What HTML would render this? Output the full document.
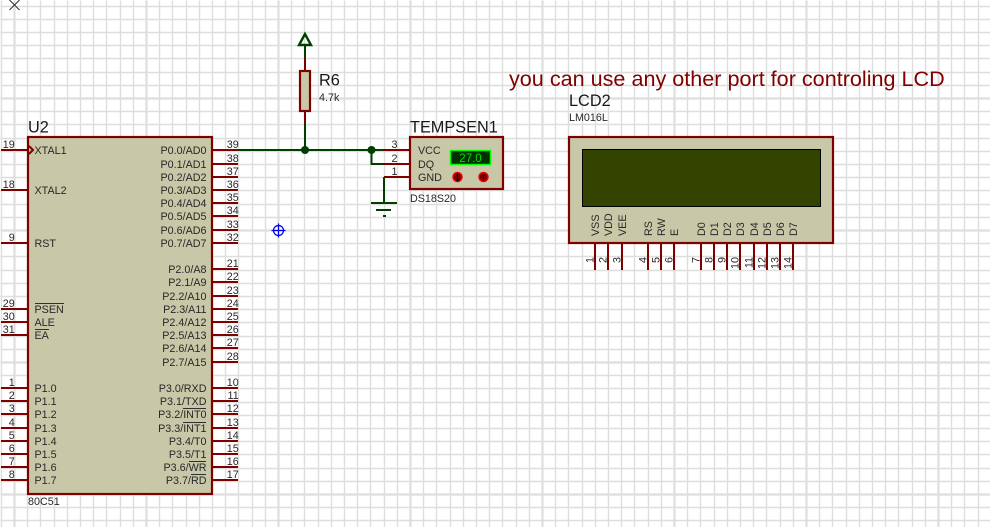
<!DOCTYPE html>
<html><head><meta charset="utf-8"><style>
html,body{margin:0;padding:0;background:#fff;width:990px;height:527px;overflow:hidden}
svg{display:block}
text{font-family:"Liberation Sans",sans-serif;font-size:10.75px;fill:#282828}
.b{font-size:16.3px;fill:#181818}
</style></head><body>
<svg width="990" height="527" viewBox="0 0 990 527" xmlns="http://www.w3.org/2000/svg">
<rect width="990" height="527" fill="#fff"/>
<g transform="translate(.5,.5)" fill="none" stroke="#dedede">
<path stroke-width="1.4" d="M1 0V527M27 0V527M40 0V527M54 0V527M67 0V527M80 0V527M93 0V527M106 0V527M120 0V527M133 0V527M159 0V527M172 0V527M186 0V527M199 0V527M212 0V527M225 0V527M238 0V527M252 0V527M265 0V527M291 0V527M304 0V527M318 0V527M331 0V527M344 0V527M357 0V527M370 0V527M384 0V527M397 0V527M423 0V527M436 0V527M450 0V527M463 0V527M476 0V527M489 0V527M502 0V527M516 0V527M529 0V527M555 0V527M568 0V527M582 0V527M595 0V527M608 0V527M621 0V527M634 0V527M648 0V527M661 0V527M687 0V527M700 0V527M714 0V527M727 0V527M740 0V527M753 0V527M766 0V527M780 0V527M793 0V527M819 0V527M832 0V527M846 0V527M859 0V527M872 0V527M885 0V527M898 0V527M912 0V527M925 0V527M951 0V527M964 0V527M978 0V527"/>
<path stroke-width="1.4" d="M0 6H990M0 19H990M0 32H990M0 45H990M0 58H990M0 72H990M0 85H990M0 111H990M0 124H990M0 138H990M0 151H990M0 164H990M0 177H990M0 190H990M0 204H990M0 217H990M0 243H990M0 256H990M0 270H990M0 283H990M0 296H990M0 309H990M0 322H990M0 336H990M0 349H990M0 375H990M0 388H990M0 402H990M0 415H990M0 428H990M0 441H990M0 454H990M0 468H990M0 481H990M0 507H990M0 520H990"/>
<path stroke-width="2.2" d="M14 0V527M146 0V527M278 0V527M410 0V527M542 0V527M674 0V527M806 0V527M938 0V527M0 98H990M0 230H990M0 362H990M0 494H990"/>
</g>

<!-- origin cross -->
<path d="M9.5 0L19.5 10M19.5 0L9.5 10" stroke="#303030" stroke-width="1" fill="none"/>
<!-- blue marker -->
<g stroke="#0000e0" fill="none" stroke-width="1.2"><circle cx="278.5" cy="230.5" r="5"/><path d="M278.5 223.5V237.5M271.5 230.5H285.5"/></g>

<!-- U2 -->
<path fill="none" stroke="#800000" stroke-width="2" d="M1 150H28M1 190H28M1 243H28M1 309H28M1 322H28M1 335H28M1 388H28M1 401H28M1 414H28M1 428H28M1 441H28M1 454H28M1 467H28M1 480H28M212 150H238M212 164H238M212 177H238M212 190H238M212 203H238M212 216H238M212 230H238M212 243H238M212 269H238M212 282H238M212 296H238M212 309H238M212 322H238M212 335H238M212 348H238M212 362H238M212 388H238M212 401H238M212 414H238M212 428H238M212 441H238M212 454H238M212 467H238M212 480H238"/>
<rect x="28" y="137" width="184" height="357" fill="#c8c8a8" stroke="#800000" stroke-width="2.2"/>
<path d="M29 146L33 150L29 154" fill="none" stroke="#800000" stroke-width="2"/>
<text class="b" x="28" y="132.500">U2</text>
<text x="28" y="505">80C51</text>
<g>
<text x="34.500" y="154">XTAL1</text><text x="34.500" y="194">XTAL2</text><text x="34.500" y="247">RST</text>
<text x="34.500" y="313">PSEN</text><text x="34.500" y="326">ALE</text><text x="34.500" y="339">EA</text>
<text x="34.500" y="392">P1.0</text><text x="34.500" y="405">P1.1</text><text x="34.500" y="418">P1.2</text><text x="34.500" y="432">P1.3</text><text x="34.500" y="445">P1.4</text><text x="34.500" y="458">P1.5</text><text x="34.500" y="471">P1.6</text><text x="34.500" y="484">P1.7</text>
</g>
<g text-anchor="end">
<text x="206.500" y="154">P0.0/AD0</text><text x="206.500" y="168">P0.1/AD1</text><text x="206.500" y="181">P0.2/AD2</text><text x="206.500" y="194">P0.3/AD3</text><text x="206.500" y="207">P0.4/AD4</text><text x="206.500" y="220">P0.5/AD5</text><text x="206.500" y="234">P0.6/AD6</text><text x="206.500" y="247">P0.7/AD7</text>
<text x="206.500" y="273">P2.0/A8</text><text x="206.500" y="286">P2.1/A9</text><text x="206.500" y="300">P2.2/A10</text><text x="206.500" y="313">P2.3/A11</text><text x="206.500" y="326">P2.4/A12</text><text x="206.500" y="339">P2.5/A13</text><text x="206.500" y="352">P2.6/A14</text><text x="206.500" y="366">P2.7/A15</text>
<text x="206.500" y="392">P3.0/RXD</text><text x="206.500" y="405">P3.1/TXD</text><text x="206.500" y="418">P3.2/INT0</text><text x="206.500" y="432">P3.3/INT1</text><text x="206.500" y="445">P3.4/T0</text><text x="206.500" y="458">P3.5/T1</text><text x="206.500" y="471">P3.6/WR</text><text x="206.500" y="484">P3.7/RD</text>
</g>
<path stroke="#303030" stroke-width="1" fill="none" d="M35 303.500H64M35 329.500H49M183 408.500H206M183 422.500H206M189 461.500H206M191 474.500H206"/>
<g text-anchor="end">
<text x="14.700" y="148">19</text><text x="14.700" y="188">18</text><text x="14.700" y="241">9</text><text x="14.700" y="307">29</text><text x="14.700" y="320">30</text><text x="14.700" y="333">31</text><text x="14.700" y="386">1</text><text x="14.700" y="399">2</text><text x="14.700" y="412">3</text><text x="14.700" y="426">4</text><text x="14.700" y="439">5</text><text x="14.700" y="452">6</text><text x="14.700" y="465">7</text><text x="14.700" y="478">8</text>
<text x="238.700" y="148">39</text><text x="238.700" y="162">38</text><text x="238.700" y="175">37</text><text x="238.700" y="188">36</text><text x="238.700" y="201">35</text><text x="238.700" y="214">34</text><text x="238.700" y="228">33</text><text x="238.700" y="241">32</text>
<text x="238.700" y="267">21</text><text x="238.700" y="280">22</text><text x="238.700" y="294">23</text><text x="238.700" y="307">24</text><text x="238.700" y="320">25</text><text x="238.700" y="333">26</text><text x="238.700" y="346">27</text><text x="238.700" y="360">28</text>
<text x="238.700" y="386">10</text><text x="238.700" y="399">11</text><text x="238.700" y="412">12</text><text x="238.700" y="426">13</text><text x="238.700" y="439">14</text><text x="238.700" y="452">15</text><text x="238.700" y="465">16</text><text x="238.700" y="478">17</text>
</g>

<!-- wires -->
<path fill="none" stroke="#003f00" stroke-width="2" d="M238 150H384M305 45V58M305 124V150M371.500 150V164H384M384 177V203M371 203H397M376 210H391M383 216H386"/>
<path d="M305 34L299 45H311Z" fill="none" stroke="#003f00" stroke-width="2.400"/>
<circle cx="305" cy="150" r="4" fill="#003f00"/>
<circle cx="371.500" cy="150" r="4" fill="#003f00"/>

<!-- R6 -->
<path fill="none" stroke="#800000" stroke-width="2" d="M305 58V71M305 111V124"/>
<rect x="300" y="71" width="10" height="40" fill="#c8c8a8" stroke="#800000" stroke-width="2.200"/>
<text class="b" x="319" y="85.500">R6</text>
<text x="319" y="101">4.7k</text>

<!-- TEMPSEN -->
<path fill="none" stroke="#800000" stroke-width="2" d="M384 150H410M384 164H410M384 177H410"/>
<rect x="410" y="137" width="93" height="52" fill="#c8c8a8" stroke="#800000" stroke-width="2.200"/>
<text class="b" x="410" y="132.500">TEMPSEN1</text>
<text x="410" y="202">DS18S20</text>
<text x="418" y="154">VCC</text><text x="418" y="168">DQ</text><text x="418" y="181">GND</text>
<text x="394.500" y="148" text-anchor="middle">3</text><text x="394.500" y="162" text-anchor="middle">2</text><text x="394.500" y="175" text-anchor="middle">1</text>
<rect x="450.500" y="150.500" width="40" height="14" fill="#003000" stroke="#00ff00" stroke-width="1.500"/>
<text x="470.500" y="162" text-anchor="middle" style="fill:#00e000;font-size:11.500px">27.0</text>
<circle cx="457.500" cy="177" r="4.500" fill="#800000" stroke="#f00000" stroke-width="1.500"/>
<circle cx="483.500" cy="177" r="4.500" fill="#800000" stroke="#f00000" stroke-width="1.500"/>
<path d="M457.500 173V180M455.500 178.500L457.500 181L459.500 178.500M483.500 174V181M481.500 175.500H485.500" stroke="#000" stroke-width="1" fill="none"/>

<!-- message -->
<text x="509" y="86" style="font-size:21.6px;fill:#800000">you can use any other port for controling LCD</text>

<!-- LCD -->
<text class="b" x="569" y="106">LCD2</text>
<text x="569" y="121">LM016L</text>
<path fill="none" stroke="#800000" stroke-width="2" d="M595 243V270M608 243V270M622 243V270M648 243V270M661 243V270M674 243V270M701 243V270M714 243V270M727 243V270M740 243V270M754 243V270M767 243V270M780 243V270M793 243V270"/>
<rect x="569" y="137" width="264" height="106" fill="#c8c8a8" stroke="#800000" stroke-width="2.200"/>
<rect x="582.500" y="149.500" width="238" height="57" fill="#334400" stroke="#000" stroke-width="1"/>
<text transform="translate(599,236) rotate(-90)">VSS</text>
<text transform="translate(612,236) rotate(-90)">VDD</text>
<text transform="translate(626,236) rotate(-90)">VEE</text>
<text transform="translate(652,236) rotate(-90)">RS</text>
<text transform="translate(665,236) rotate(-90)">RW</text>
<text transform="translate(678,236) rotate(-90)">E</text>
<text transform="translate(705,236) rotate(-90)">D0</text>
<text transform="translate(718,236) rotate(-90)">D1</text>
<text transform="translate(731,236) rotate(-90)">D2</text>
<text transform="translate(744,236) rotate(-90)">D3</text>
<text transform="translate(758,236) rotate(-90)">D4</text>
<text transform="translate(771,236) rotate(-90)">D5</text>
<text transform="translate(784,236) rotate(-90)">D6</text>
<text transform="translate(797,236) rotate(-90)">D7</text>
<g text-anchor="end">
<text transform="translate(593.500,257) rotate(-90)">1</text>
<text transform="translate(606.500,257) rotate(-90)">2</text>
<text transform="translate(620.500,257) rotate(-90)">3</text>
<text transform="translate(646.500,257) rotate(-90)">4</text>
<text transform="translate(659.500,257) rotate(-90)">5</text>
<text transform="translate(672.500,257) rotate(-90)">6</text>
<text transform="translate(699.500,257) rotate(-90)">7</text>
<text transform="translate(712.500,257) rotate(-90)">8</text>
<text transform="translate(725.500,257) rotate(-90)">9</text>
<text transform="translate(738.500,257) rotate(-90)">10</text>
<text transform="translate(752.500,257) rotate(-90)">11</text>
<text transform="translate(765.500,257) rotate(-90)">12</text>
<text transform="translate(778.500,257) rotate(-90)">13</text>
<text transform="translate(791.500,257) rotate(-90)">14</text>
</g>
</svg>
</body></html>
